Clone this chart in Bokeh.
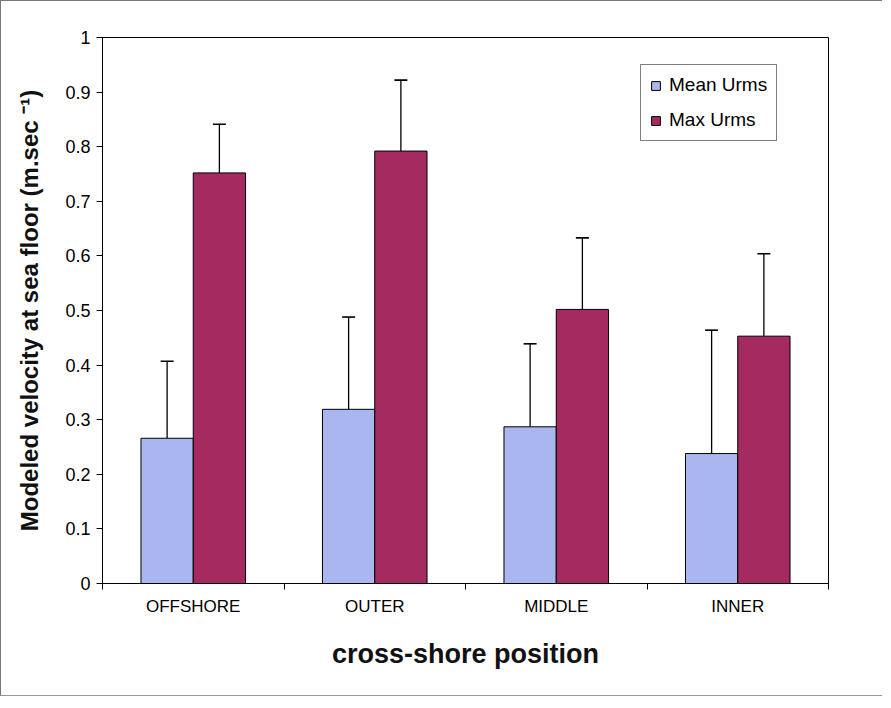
from bokeh.plotting import figure
from bokeh.models import (Range1d, FixedTicker, ColumnDataSource, Whisker, TeeHead,
                          Legend, LegendItem)
from bokeh.embed import file_html
from bokeh.resources import INLINE

categories = ["OFFSHORE", "OUTER", "MIDDLE", "INNER"]
mean_urms = [0.266, 0.319, 0.287, 0.238]
mean_sd = [0.141, 0.169, 0.152, 0.226]
max_urms = [0.752, 0.792, 0.502, 0.453]
max_sd = [0.089, 0.130, 0.131, 0.151]
y_ticks = [0, 0.1, 0.2, 0.3, 0.4, 0.5, 0.6, 0.7, 0.8, 0.9, 1]
y_tick_labels = ["0", "0.1", "0.2", "0.3", "0.4", "0.5", "0.6", "0.7", "0.8", "0.9", "1"]

FONT = "Liberation Sans"
MEAN_COLOR = "#aab6ef"
MAX_COLOR = "#a52a60"

n = len(categories)
centers = [i + 0.5 for i in range(n)]
bw = 0.288
mean_x = [c - bw / 2 for c in centers]
max_x = [c + bw / 2 for c in centers]

src_mean = ColumnDataSource(dict(x=mean_x, top=mean_urms,
                                 upper=[m + s for m, s in zip(mean_urms, mean_sd)]))
src_max = ColumnDataSource(dict(x=max_x, top=max_urms,
                                upper=[m + s for m, s in zip(max_urms, max_sd)]))

p = figure(width=882, height=696, output_backend="svg", toolbar_location=None,
           x_range=Range1d(0, n), y_range=Range1d(0, 1),
           min_border_left=101, min_border_right=55, min_border_top=36, min_border_bottom=114)
p.styles = {"border-left": "1px solid #777", "border-top": "1px solid #777",
            "border-bottom": "1px solid #999"}
p.grid.visible = False
p.outline_line_color = "black"
p.outline_line_width = 1

r_mean = p.vbar(x="x", top="top", width=bw, source=src_mean, fill_color=MEAN_COLOR,
                line_color="black", line_width=1)
r_max = p.vbar(x="x", top="top", width=bw, source=src_max, fill_color=MAX_COLOR,
               line_color="black", line_width=1)

for src in (src_mean, src_max):
    w = Whisker(base="x", lower="top", upper="upper", source=src,
                line_color="black", line_width=1.3,
                upper_head=TeeHead(size=13, line_color="black", line_width=1.6),
                lower_head=None)
    p.add_layout(w)

# x axis
p.xaxis.ticker = FixedTicker(ticks=centers, minor_ticks=list(range(n + 1)))
p.xaxis.major_label_overrides = {c: lab for c, lab in zip(centers, categories)}
p.xaxis.major_tick_line_color = None
p.xaxis.minor_tick_line_color = "black"
p.xaxis.minor_tick_out = 6
p.xaxis.minor_tick_in = 0
p.xaxis.major_label_standoff = 7
p.xaxis.major_label_text_font = FONT
p.xaxis.major_label_text_font_size = "17px"
p.xaxis.major_label_text_color = "black"
p.xaxis.axis_label = "cross-shore position"
p.xaxis.axis_label_text_font = FONT
p.xaxis.axis_label_text_font_style = "bold"
p.xaxis.axis_label_text_font_size = "27px"
p.xaxis.axis_label_text_color = "#111"
p.xaxis.axis_label_standoff = 20
p.xaxis.axis_line_color = "black"

# y axis
p.yaxis.ticker = FixedTicker(ticks=y_ticks, minor_ticks=[])
p.yaxis.major_label_overrides = {t: lab for t, lab in zip(y_ticks, y_tick_labels)}
p.yaxis.major_tick_out = 6
p.yaxis.major_tick_in = 0
p.yaxis.major_tick_line_color = "black"
p.yaxis.major_label_standoff = 6
p.yaxis.major_label_text_font = FONT
p.yaxis.major_label_text_font_size = "18px"
p.yaxis.major_label_text_color = "black"
p.yaxis.axis_label = "Modeled velocity at sea floor (m.sec \u207b\u00b9)"
p.yaxis.axis_label_text_font = FONT
p.yaxis.axis_label_text_font_style = "bold"
p.yaxis.axis_label_text_font_size = "24px"
p.yaxis.axis_label_text_color = "#111"
p.yaxis.axis_label_standoff = 19
p.yaxis.axis_line_color = "black"

legend = Legend(items=[LegendItem(label="Mean Urms", renderers=[r_mean]),
                       LegendItem(label="Max Urms", renderers=[r_max])],
                location=(538, 442), margin=0, padding=9, spacing=13,
                glyph_width=11, glyph_height=11, label_height=20, label_standoff=8,
                label_text_font=FONT, label_text_font_size="19px",
                label_text_color="black",
                border_line_color="black", border_line_width=1,
                background_fill_alpha=1)
p.add_layout(legend)

open("out.html", "w").write(file_html(p, INLINE))
